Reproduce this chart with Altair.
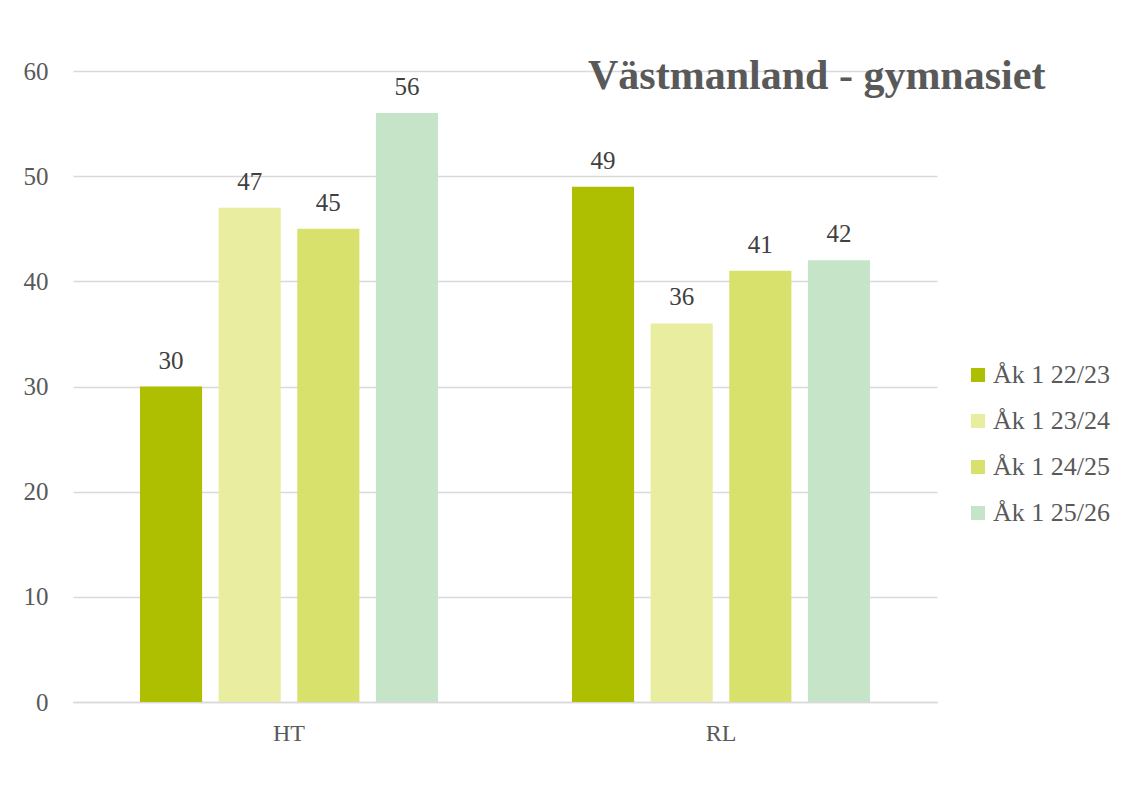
import altair as alt
import pandas as pd

groups = ["HT", "RL"]
series = ["Åk 1 22/23", "Åk 1 23/24", "Åk 1 24/25", "Åk 1 25/26"]
ht_values = [30, 47, 45, 56]
rl_values = [49, 36, 41, 42]
colors = ["#ADBF00", "#E9EDA0", "#D7E16C", "#C5E4C8"]

rows = []
for g, vals in zip(groups, [ht_values, rl_values]):
    for s, v in zip(series, vals):
        rows.append({"grupp": g, "serie": s, "värde": v})
df = pd.DataFrame(rows)

FONT = "Liberation Serif"

x = alt.X("grupp:N", sort=groups, title=None,
          scale=alt.Scale(paddingInner=0.31, paddingOuter=0.155),
          axis=alt.Axis(labelAngle=0, labelFont=FONT, labelFontSize=24,
                        labelColor="#595959", labelPadding=19, ticks=False,
                        domainColor="#D9D9D9", domainWidth=1.5))
xo = alt.XOffset("serie:N", sort=series,
                 scale=alt.Scale(paddingInner=0.21, paddingOuter=0))
y = alt.Y("värde:Q", title=None,
          scale=alt.Scale(domain=[0, 60]),
          axis=alt.Axis(values=[0, 10, 20, 30, 40, 50, 60], labelFont=FONT,
                        labelFontSize=25, labelColor="#595959", labelPadding=25,
                        ticks=False, domain=False, gridColor="#D9D9D9",
                        gridWidth=1.5))

bars = alt.Chart(df).mark_bar().encode(
    x=x, xOffset=xo, y=y,
    color=alt.Color("serie:N", sort=series,
                    scale=alt.Scale(domain=series, range=colors),
                    legend=alt.Legend(title=None, orient="none", legendX=892,
                                      legendY=291, symbolType="square",
                                      symbolSize=196, symbolStrokeWidth=0,
                                      labelFont=FONT, labelFontSize=26,
                                      labelColor="#595959", labelOffset=2,
                                      rowPadding=20, padding=0)),
)

labels = alt.Chart(df).mark_text(
    font=FONT, fontSize=25, color="#404040", baseline="alphabetic", dy=-18
).encode(x=x, xOffset=xo, y=y, text="värde:Q")

chart = alt.layer(bars, labels).properties(
    width=864, height=631,
    title=alt.TitleParams("Västmanland - gymnasiet", font=FONT, fontSize=42,
                          fontWeight="bold", color="#595959", anchor="start",
                          frame="group", baseline="alphabetic", offset=0,
                          dx=515, dy=72),
    autosize=alt.AutoSizeParams(type="none"),
    padding={"left": 65, "top": 63, "right": 177, "bottom": 90},
).configure(background="white").configure_view(strokeWidth=0)

chart.save("out.html", embed_options={"renderer": "svg", "actions": False})
